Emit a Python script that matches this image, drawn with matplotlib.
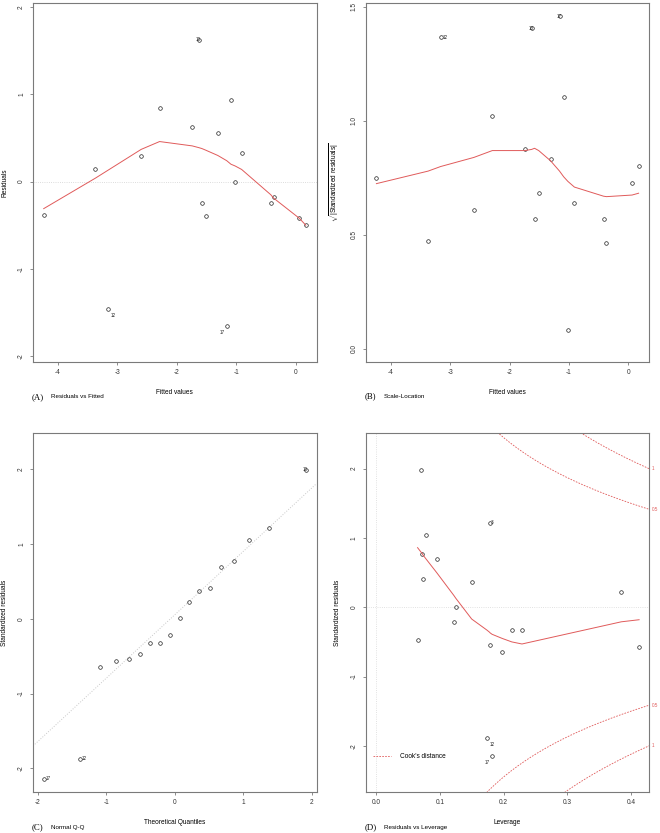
import matplotlib
matplotlib.use('Agg')
import matplotlib.pyplot as plt
import numpy as np

plt.rcParams['font.family'] = ['Liberation Sans', 'DejaVu Sans']
plt.rcParams['mathtext.fontset'] = 'custom'
plt.rcParams['mathtext.rm'] = 'Liberation Sans'
plt.rcParams['axes.unicode_minus'] = False

# ---- data ----
# fitted values (sorted) with raw and standardized residuals
fitted = [-4.24, -3.37, -3.16, -2.60, -2.29, -1.74, -1.63, -1.58, -1.51,
          -1.31, -1.16, -1.09, -1.02, -0.91, -0.42, -0.37, 0.06, 0.17]
resid = [-0.38, 0.15, -1.46, 0.29, 0.85, 0.63, 1.63, -0.25, -0.39,
         0.56, -1.66, 0.94, 0.00, 0.33, -0.25, -0.18, -0.42, -0.50]
resid_smooth = [-0.31, 0.04, 0.13, 0.37, 0.46, 0.41, 0.39, 0.38, 0.36,
                0.30, 0.24, 0.20, 0.18, 0.14, -0.15, -0.19, -0.42, -0.50]
sqrt_std = [0.75, 0.474, 1.366, 0.608, 1.02, 0.877, 1.407, 0.569, 0.683,
            0.832, 1.459, 1.103, 0.082, 0.64, 0.569, 0.464, 0.728, 0.803]
sqrt_smooth = [0.725, 0.78, 0.80, 0.84, 0.87, 0.87, 0.875, 0.88, 0.87,
               0.825, 0.78, 0.755, 0.735, 0.71, 0.67, 0.668, 0.675, 0.683]
fit_labels = {2: '12', 6: '10', 10: '17'}

# normal Q-Q
theo_q = [-1.915, -1.383, -1.085, -0.861, -0.674, -0.508, -0.355, -0.210, -0.070,
          0.070, 0.210, 0.355, 0.508, 0.674, 0.861, 1.085, 1.383, 1.915]
std_sorted = [-2.14, -1.87, -0.646, -0.561, -0.535, -0.468, -0.321, -0.321, -0.214,
              0.005, 0.227, 0.37, 0.414, 0.695, 0.775, 1.056, 1.22, 1.99]
qq_labels = {0: '17', 1: '12', 17: '10'}

# residuals vs leverage
leverage = [0.065, 0.070, 0.072, 0.073, 0.078, 0.095, 0.122, 0.125, 0.150,
            0.174, 0.178, 0.179, 0.182, 0.198, 0.213, 0.229, 0.385, 0.413]
std_lev = [-0.471, 1.98, 0.768, 0.408, 1.04, 0.69, -0.216, 0.0, 0.365,
           -1.88, 1.22, -0.538, -2.14, -0.648, -0.327, -0.327, 0.22, -0.567]
lev_smooth = [0.86, 0.80, 0.78, 0.76, 0.70, 0.50, 0.17, 0.13, -0.17,
              -0.33, -0.36, -0.37, -0.39, -0.45, -0.50, -0.53, -0.21, -0.18]
lev_labels = {10: '3', 9: '12', 12: '17'}
cook_levels = [0.5, 1]
n_par = 3

RED = '#E05A5A'
BOX = '#7a7a7a'


def style(ax):
    for s in ax.spines.values():
        s.set_color(BOX)
        s.set_linewidth(0.8)
    ax.tick_params(direction='out', length=2.2, width=0.6, color=BOX,
                   labelsize=4.7, labelcolor='#333333', pad=2.5)
    ax.tick_params(axis='y', labelrotation=90, pad=3.5)
    plt.setp(ax.get_yticklabels(), va='center')


def pts(ax, x, y):
    ax.plot(x, y, 'o', ms=2.6, mfc='none', mec='#222222', mew=0.5)


def lab(ax, x, y, t, dx, dy, ha):
    ax.annotate(t, (x, y), xytext=(dx, dy), textcoords='offset points',
                fontsize=3.3, ha=ha, va='center', color='#222222')


fig = plt.figure(figsize=(6.6, 8.33), dpi=100)
W, H = 660.0, 833.0


def mk(l, r, t, b):
    return fig.add_axes([l / W, 1 - b / H, (r - l) / W, (b - t) / H])


axA = mk(33, 316.5, 3, 362)
axB = mk(365.7, 649.3, 3, 362)
axC = mk(33, 316.5, 433.3, 792.3)
axD = mk(365.7, 649.3, 433.3, 792.3)

# (A) Residuals vs Fitted
axA.axhline(0, color='#d0d0d0', ls=':', lw=0.6)
pts(axA, fitted, resid)
axA.plot(fitted, resid_smooth, color=RED, lw=0.7)
axA.set_xlim(-4.42, 0.35)
axA.set_ylim(-2.07, 2.05)
axA.set_xticks([-4, -3, -2, -1, 0])
axA.set_yticks([-2, -1, 0, 1, 2])
for i, t in fit_labels.items():
    if t == '12':
        lab(axA, fitted[i], resid[i], t, 3.6, -5, 'center')
    elif t == '17':
        lab(axA, fitted[i], resid[i], t, -3.4, -4.8, 'center')
    else:
        lab(axA, fitted[i], resid[i], t, 1.6, 0, 'right')
axA.set_xlabel('Fitted values', fontsize=4.7)
axA.set_ylabel('Residuals', fontsize=4.7)

# (B) Scale-Location
pts(axB, fitted, sqrt_std)
axB.plot(fitted, sqrt_smooth, color=RED, lw=0.7)
axB.set_xlim(-4.42, 0.35)
axB.set_ylim(-0.057, 1.517)
axB.set_xticks([-4, -3, -2, -1, 0])
axB.set_yticks([0.0, 0.5, 1.0, 1.5])
axB.set_yticklabels(['0.0', '0.5', '1.0', '1.5'])
for i, t in fit_labels.items():
    if t == '12':
        lab(axB, fitted[i], sqrt_std[i], t, 1.2, 0, 'left')
    else:
        lab(axB, fitted[i], sqrt_std[i], t, 1.6, 0, 'right')
axB.set_xlabel('Fitted values', fontsize=4.7)
axB.set_ylabel(r'$\sqrt{|\mathrm{Standardized\ residuals}|}$', fontsize=4.7)

# (C) Normal Q-Q
q1, q3 = np.quantile(std_sorted, [0.25, 0.75])
slope = (q3 - q1) / (2 * 0.6745)
icpt = q1 + 0.6745 * slope
axC.axline((0, icpt), slope=slope, color='#c8c8c8', ls=':', lw=0.7)
pts(axC, theo_q, std_sorted)
axC.set_xlim(-2.07, 2.07)
axC.set_ylim(-2.32, 2.48)
axC.set_xticks([-2, -1, 0, 1, 2])
axC.set_yticks([-2, -1, 0, 1, 2])
for i, t in qq_labels.items():
    if t == '10':
        lab(axC, theo_q[i], std_sorted[i], t, 1.6, 0, 'right')
    else:
        lab(axC, theo_q[i], std_sorted[i], t, 1.2, 0, 'left')
axC.set_xlabel('Theoretical Quantiles', fontsize=4.7)
axC.set_ylabel('Standardized residuals', fontsize=4.7)

# (D) Residuals vs Leverage
axD.axhline(0, color='#d8d8d8', ls=':', lw=0.6)
axD.axvline(0, color='#d8d8d8', ls=':', lw=0.6)
pts(axD, leverage, std_lev)
axD.plot(leverage, lev_smooth, color=RED, lw=0.7)
xmax = 0.429
hh = np.linspace(0.004, xmax, 300)
for c in cook_levels:
    cl = np.sqrt(c * n_par * (1 - hh) / hh)
    cline, = axD.plot(hh, cl, color=RED, ls=(0, (2, 1.5)), lw=0.6)
    axD.plot(hh, -cl, color=RED, ls=(0, (2, 1.5)), lw=0.6)
    yl = np.sqrt(c * n_par * (1 - xmax) / xmax)
    for yy in (yl, -yl):
        axD.annotate(str(c), (1.0, yy), xycoords=('axes fraction', 'data'),
                     xytext=(2, 0), textcoords='offset points', fontsize=3.3,
                     color=RED, ha='left', va='center', annotation_clip=False)
axD.set_xlim(-0.0165, xmax)
axD.set_ylim(-2.67, 2.51)
axD.set_xticks([0.0, 0.1, 0.2, 0.3, 0.4])
axD.set_xticklabels(['0.0', '0.1', '0.2', '0.3', '0.4'])
axD.set_yticks([-2, -1, 0, 1, 2])
for i, t in lev_labels.items():
    if t == '3':
        lab(axD, leverage[i], std_lev[i], t, 1.2, 0, 'left')
    elif t == '12':
        lab(axD, leverage[i], std_lev[i], t, 3.6, -5.3, 'center')
    else:
        lab(axD, leverage[i], std_lev[i], t, -3.4, -4.8, 'center')
axD.legend([cline], ["Cook's distance"], loc='center left',
           bbox_to_anchor=(0.024, 0.099), frameon=False, fontsize=4.7,
           handlelength=2.9, handletextpad=1.3, borderpad=0, borderaxespad=0)
axD.set_xlabel('Leverage', fontsize=4.7)
axD.set_ylabel('Standardized residuals', fontsize=4.7)

for ax in (axA, axB, axC, axD):
    style(ax)
    ax.yaxis.set_label_coords(-0.088, 0.5)
    ax.xaxis.set_label_coords(0.5, -0.075)

# panel captions
caps = [(32, 397, '(A)', 'Residuals vs Fitted'),
        (364.5, 396, '(B)', 'Scale-Location'),
        (32, 827, '(C)', 'Normal Q-Q'),
        (364.5, 827, '(D)', 'Residuals vs Leverage')]
for x, y, tag, name in caps:
    fig.text(x / W, 1 - y / H, tag, fontsize=6.3, va='center', ha='left',
             family=['Liberation Serif', 'DejaVu Serif'])
    fig.text((x + 19) / W, 1 - y / H, name, fontsize=4.5, va='center', ha='left')

fig.savefig('out.png', dpi=100)
